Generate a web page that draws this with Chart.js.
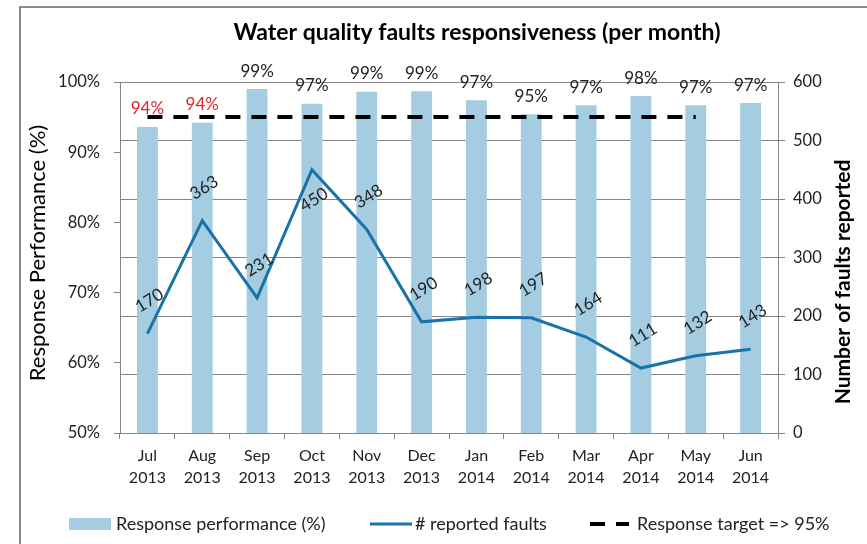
<!DOCTYPE html>
<html>
<head>
<meta charset="utf-8">
<title>Water quality faults responsiveness</title>
<script src="https://cdn.jsdelivr.net/npm/chart.js@4.4.1/dist/chart.umd.min.js"></script>
<style>
  html, body { margin: 0; padding: 0; background: #fff; }
  #wrap { width: 867px; height: 544px; }
</style>
</head>
<body>
<div id="wrap"><canvas id="myChart" width="867" height="544"></canvas></div>
<script>
// Months and values
const months = [['Jul', '2013'], ['Aug', '2013'], ['Sep', '2013'], ['Oct', '2013'], ['Nov', '2013'], ['Dec', '2013'],
                ['Jan', '2014'], ['Feb', '2014'], ['Mar', '2014'], ['Apr', '2014'], ['May', '2014'], ['Jun', '2014']];
const responsePerformance = [93.6, 94.2, 99.0, 96.9, 98.6, 98.7, 97.4, 95.4, 96.7, 98.0, 96.7, 97.0];
const reportedFaults = [170, 363, 231, 450, 348, 190, 198, 197, 164, 111, 132, 143];
const responseTarget = [95, 95, 95, 95, 95, 95, 95, 95, 95, 95, 95, null];

const FONT = 'Lato, "Open Sans", sans-serif';
const TEXT = '#222222';
const AXIS = '#868686';

// Frame, titles, value labels and legend
const decorations = {
    id: 'decorations',
    beforeDraw(chart) {
        const ctx = chart.ctx;
        ctx.save();
        ctx.strokeStyle = '#8a8a8a';
        ctx.lineWidth = 2;
        ctx.strokeRect(20, 7, 900, 600);
        ctx.restore();
    },
    afterDatasetsDraw(chart) {
        const ctx = chart.ctx;
        ctx.save();
        ctx.textAlign = 'center';
        ctx.textBaseline = 'middle';

        // chart title
        ctx.fillStyle = '#000';
        ctx.font = 'bold 23px ' + FONT;
        ctx.fillText('Water quality faults responsiveness (per month)', 477, 33);

        // axis titles
        ctx.save();
        ctx.translate(38, 253);
        ctx.rotate(-Math.PI / 2);
        ctx.font = '22px ' + FONT;
        ctx.fillText('Response Performance (%)', 0, 0);
        ctx.restore();

        ctx.save();
        ctx.translate(843, 282);
        ctx.rotate(-Math.PI / 2);
        ctx.font = 'bold 21px ' + FONT;
        ctx.fillText('Number of faults reported', 0, 0);
        ctx.restore();

        // bar labels
        const barMeta = chart.getDatasetMeta(0);
        ctx.font = '17px ' + FONT;
        barMeta.data.forEach((bar, i) => {
            const v = responsePerformance[i];
            ctx.fillStyle = v < 95 ? '#e3242b' : TEXT;
            ctx.fillText(Math.round(v) + '%', bar.x, bar.y - 18);
        });

        // line labels, rotated
        const lineMeta = chart.getDatasetMeta(1);
        const maxFaults = Math.max(...reportedFaults);
        ctx.fillStyle = TEXT;
        lineMeta.data.forEach((pt, i) => {
            const v = reportedFaults[i];
            const dy = v === maxFaults ? 30 : -33;
            ctx.save();
            ctx.translate(pt.x + 2, pt.y + dy);
            ctx.rotate(-32 * Math.PI / 180);
            ctx.fillText(String(v), 0, 0);
            ctx.restore();
        });

        // legend
        const ds = chart.data.datasets;
        const ly = 524;
        ctx.textAlign = 'left';
        ctx.font = '18px ' + FONT;

        ctx.fillStyle = ds[0].backgroundColor;
        ctx.fillRect(69, ly - 6, 42, 12);
        ctx.fillStyle = TEXT;
        ctx.fillText(ds[0].label, 116, ly);

        ctx.strokeStyle = ds[1].borderColor;
        ctx.lineWidth = ds[1].borderWidth;
        ctx.beginPath();
        ctx.moveTo(370, ly);
        ctx.lineTo(412, ly);
        ctx.stroke();
        ctx.fillText(ds[1].label, 415, ly);

        ctx.strokeStyle = ds[2].borderColor;
        ctx.lineWidth = ds[2].borderWidth;
        ctx.setLineDash(ds[2].borderDash);
        ctx.beginPath();
        ctx.moveTo(590, ly);
        ctx.lineTo(629, ly);
        ctx.stroke();
        ctx.setLineDash([]);
        ctx.fillText(ds[2].label, 637, ly);

        ctx.restore();
    }
};

const ctx = document.getElementById('myChart').getContext('2d');
const chart = new Chart(ctx, {
    type: 'bar',
    data: {
        labels: months,
        datasets: [{
            type: 'bar',
            label: 'Response performance (%)',
            data: responsePerformance,
            yAxisID: 'y',
            backgroundColor: '#a5cde1',
            categoryPercentage: 1,
            barPercentage: 0.38,
            order: 3
        }, {
            type: 'line',
            label: '# reported faults',
            data: reportedFaults,
            yAxisID: 'y1',
            borderColor: '#1a72a8',
            borderWidth: 3,
            pointRadius: 0,
            tension: 0,
            order: 1
        }, {
            type: 'line',
            label: 'Response target => 95%',
            data: responseTarget,
            yAxisID: 'y',
            borderColor: '#000000',
            borderWidth: 4,
            borderDash: [15, 11],
            borderCapStyle: 'butt',
            pointRadius: 0,
            order: 2
        }]
    },
    options: {
        responsive: false,
        animation: false,
        layout: { padding: { top: 82, left: 20, right: 19, bottom: 51 } },
        plugins: {
            legend: { display: false },
            title: { display: false },
            tooltip: { enabled: false }
        },
        scales: {
            x: {
                grid: { display: true, drawOnChartArea: false, drawTicks: true, tickLength: 6, color: AXIS, offset: true },
                border: { display: true, color: AXIS },
                ticks: { color: TEXT, font: { family: FONT, size: 16, lineHeight: 1.38 }, padding: 6, maxRotation: 0 },
                afterFit(scale) { scale.height = 60; }
            },
            y: {
                position: 'left',
                min: 50,
                max: 100,
                ticks: {
                    stepSize: 10,
                    color: TEXT,
                    font: { family: FONT, size: 16.5 },
                    padding: 14,
                    callback: v => v + '%'
                },
                grid: { drawOnChartArea: false, drawTicks: true, tickLength: 6, color: AXIS },
                border: { display: true, color: AXIS },
                afterFit(scale) { scale.width = 100; }
            },
            y1: {
                position: 'right',
                min: 0,
                max: 600,
                ticks: {
                    stepSize: 100,
                    color: TEXT,
                    font: { family: FONT, size: 16.5 },
                    padding: 8
                },
                grid: { drawOnChartArea: true, drawTicks: true, tickLength: 7, color: AXIS },
                border: { display: true, color: AXIS },
                afterFit(scale) { scale.width = 70; }
            }
        }
    },
    plugins: [decorations]
});
</script>
</body>
</html>
